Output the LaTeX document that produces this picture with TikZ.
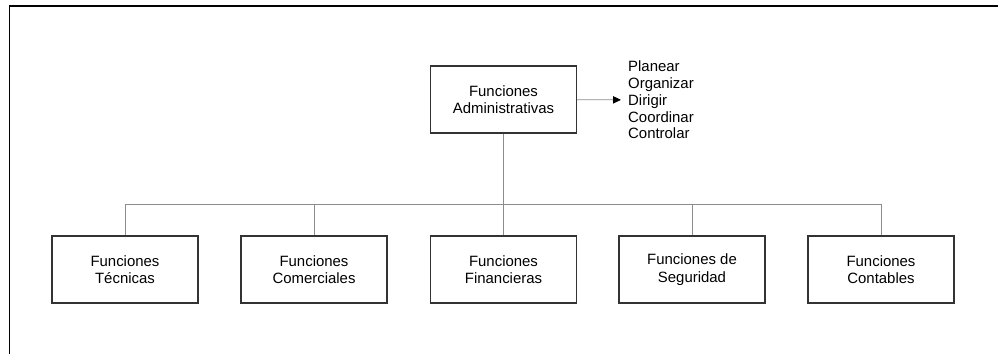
\documentclass[tikz,border=0pt]{standalone}
\usepackage{fontspec}
\setmainfont{Liberation Sans}
\usetikzlibrary{arrows.meta}
\tikzset{every picture/.style={line width=0.75pt}}
\tikzset{
  funcbox/.style={draw=black!80, line width=0.9pt, minimum width=109.5pt, minimum height=50.25pt,
    align=center, font=\fontsize{11.2}{13.2}\selectfont},
  link/.style={draw=black!45, line width=0.6pt}
}

\begin{document}
\begin{tikzpicture}[x=0.75pt,y=-0.75pt]
	\useasboundingbox (0,0) rectangle (998,354);
	\draw[line width=1pt] (998,6) -- (9.5,6) -- (9.5,354);
	%
	\node[funcbox] (admin) at (503.5,99.5) {Funciones\\Administrativas};
	\node[anchor=west, inner xsep=5pt, inner ysep=0pt, align=left,
	      font=\fontsize{11.2}{12.6}\selectfont] (tareas) at (621,100)
	      {Planear\\Organizar\\Dirigir\\Coordinar\\Controlar};
	%
	\node[funcbox] (tec) at (125,269.5) {Funciones\\Técnicas};
	\node[funcbox] (com) at (314,269.5) {Funciones\\Comerciales};
	\node[funcbox] (fin) at (503.5,269.5) {Funciones\\Financieras};
	\node[funcbox] (seg) at (692,269.5) {Funciones de\\Seguridad};
	\node[funcbox] (con) at (881,269.5) {Funciones\\Contables};
	%
	\coordinate (bus) at (503.5,204);
	\draw[link] (admin) -- (bus);
	\foreach \n in {tec,com,fin,seg,con}
		\draw[link] (\n.north) |- (bus);
	\draw[link, -{Stealth[length=6pt,width=5.5pt,inset=0pt,black]}] (admin) -- (tareas);
\end{tikzpicture}
\end{document}
